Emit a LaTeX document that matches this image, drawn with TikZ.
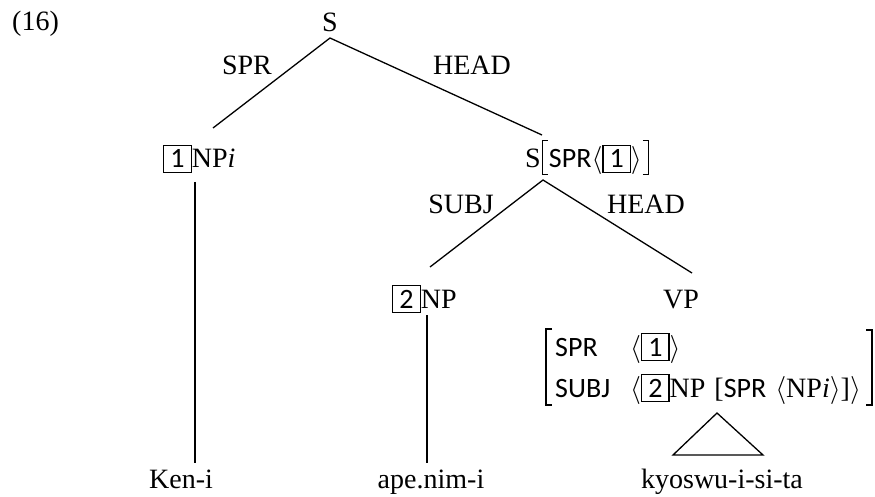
\RequirePackage{fix-cm}
\documentclass[tikz,border=0pt]{standalone}
\usepackage{fontspec}
\setmainfont{Liberation Serif}
\newfontfamily\calfont{Carlito}
\newcommand\bx[1]{{\setlength\fboxsep{0pt}\setlength\fboxrule{1.2pt}\fbox{\rule[-4pt]{0pt}{26pt}\kern6pt{\calfont #1}\kern6pt}}}
\newcommand\tlb{\kern1pt\rule[-7pt]{1.2pt}{35pt}\rule[-7pt]{5pt}{1.2pt}\kern-5pt\rule[26.8pt]{5pt}{1.2pt}\kern1pt}
\newcommand\trb{\kern1pt\rule[-7pt]{5pt}{1.2pt}\kern-5pt\rule[26.8pt]{5pt}{1.2pt}\rule[-7pt]{1.2pt}{35pt}}
\begin{document}
\begin{tikzpicture}[x=1pt,y=-1pt,
  lbl/.style={font=\fontsize{28}{32}\selectfont, inner sep=0pt, anchor=base},
  edge/.style={line width=1.3pt}]
\useasboundingbox (0,0) rectangle (875,497);
% nodes
\node[lbl, anchor=base west] (ex) at (12,31) {(16)};
\node[lbl] (S) at (330,32) {S};
\node[lbl] (lspr) at (247,75) {SPR};
\node[lbl] (lhead) at (472,75) {HEAD};
\node[lbl, anchor=base west] (np1) at (163,168) {\bx{1}NP\textit{i}};
\node[lbl, anchor=base west] (sspr) at (525,168) {S\tlb{\calfont SPR}$\langle$\bx{1}$\rangle$\trb};
\node[lbl] (lsubj) at (461,213) {SUBJ};
\node[lbl] (lhead2) at (646,213) {HEAD};
\node[lbl, anchor=base west] (np2) at (392,308) {\bx{2}NP};
\node[lbl] (vp) at (681,308) {VP};
\node[lbl, anchor=base west] (k1) at (555,356) {\calfont SPR};
\node[lbl, anchor=base west] (v1) at (630,356) {$\langle$\bx{1}$\rangle$};
\node[lbl, anchor=base west] (k2) at (555,397) {\calfont SUBJ};
\node[lbl, anchor=base west] (v2) at (630,397) {$\langle$\bx{2}NP\kern2pt\ [{\calfont SPR}\kern2pt\ $\langle$NP\textit{i}$\rangle$]$\rangle$};
\node[lbl] (w1) at (181,488) {Ken-i};
\node[lbl] (w2) at (431,488) {ape.nim-i};
\node[lbl] (w3) at (722,488) {kyoswu-i-si-ta};
% connector end points
\coordinate (Sb) at (330,38);
\coordinate (np1t) at (213,128);
\coordinate (sst) at (542,135);
\coordinate (ssb) at (543,180);
\coordinate (np2t) at (430,267);
\coordinate (vpt) at (692,273);
\coordinate (np1b) at (195,182);
\coordinate (w1t) at (195,463);
\coordinate (np2b) at (427,315);
\coordinate (w2t) at (427,463);
\coordinate (tria) at (717,413);
\coordinate (tril) at (673,455);
\coordinate (trir) at (763,455);
% connectors
\draw[edge] (np1t) -- (Sb) -- (sst);
\draw[edge] (np2t) -- (ssb) -- (vpt);
\draw[edge] (np1b) -- (w1t);
\draw[edge] (np2b) -- (w2t);
\draw[edge, line join=miter] (tria) -- (tril) -- (trir) -- cycle;
% AVM brackets
\draw[edge] (552,329) -- (546,329) -- (546,405) -- (552,405);
\draw[edge] (866,330) -- (872,330) -- (872,405) -- (866,405);
\end{tikzpicture}
\end{document}
